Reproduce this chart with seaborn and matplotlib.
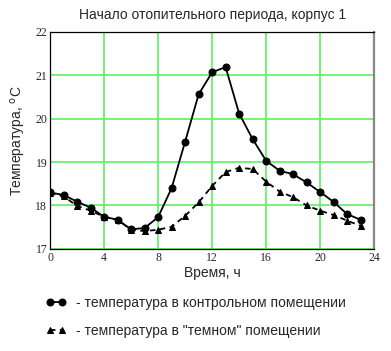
import numpy as np
import pandas as pd
import matplotlib
matplotlib.use('Agg')
import matplotlib.pyplot as plt
import seaborn as sns

# данные
hours = list(range(24))
t_control = [18.30, 18.24, 18.09, 17.95, 17.74, 17.67, 17.45, 17.48, 17.73, 18.40,
             19.47, 20.56, 21.07, 21.19, 20.12, 19.53, 19.03, 18.80, 18.72, 18.53,
             18.31, 18.08, 17.80, 17.67]
t_dark = [18.28, 18.21, 17.99, 17.88, 17.74, 17.67, 17.44, 17.41, 17.44, 17.51,
          17.76, 18.07, 18.45, 18.77, 18.87, 18.84, 18.55, 18.32, 18.19, 18.00,
          17.88, 17.78, 17.65, 17.53]

label_control = '- температура в контрольном помещении'
label_dark = '- температура в "темном" помещении'

df = pd.DataFrame({'t': hours, 'control': t_control, 'dark': t_dark})

sns.set_style('white')
plt.rcParams['font.family'] = ['Liberation Sans', 'DejaVu Sans']

fig = plt.figure(figsize=(3.91, 3.51), dpi=100)
ax = fig.add_axes([0.128, 0.291, 0.829, 0.618])

sns.lineplot(data=df, x='t', y='control', ax=ax, color='black', lw=1.3,
             marker='o', markersize=5, markeredgecolor='black', label=label_control)
sns.lineplot(data=df, x='t', y='dark', ax=ax, color='black', lw=1.3,
             marker='^', markersize=5, markeredgecolor='black', label=label_dark)
ax.lines[1].set_dashes([3, 2.5])

ax.set_xlim(0, 24)
ax.set_ylim(17, 22)
ax.set_xticks(range(0, 25, 4))
ax.set_yticks(range(17, 23))
ax.grid(True, color='#5ef05e', lw=1.2)
ax.set_axisbelow(True)
ax.tick_params(length=0, pad=2)
for lab in ax.get_xticklabels() + ax.get_yticklabels():
    lab.set_family('Liberation Serif')
    lab.set_fontsize(8.5)

for s in ['left', 'bottom', 'top']:
    ax.spines[s].set_color('black')
    ax.spines[s].set_linewidth(0.9)
ax.spines['right'].set_color('#888888')
ax.spines['right'].set_linewidth(1.6)

ax.set_title('Начало отопительного периода, корпус 1', fontsize=10, pad=9)
ax.set_xlabel('Время, ч', fontsize=10, labelpad=2)
ax.set_ylabel(r'Температура, $^\mathrm{o}$C', fontsize=10, labelpad=5)

handles, labels = ax.get_legend_handles_labels()
ax.get_legend().remove()
fig.legend(handles, labels, loc='upper left', bbox_to_anchor=(0.085, 0.193),
           frameon=False, fontsize=10, numpoints=2, handlelength=1.5,
           handletextpad=0.7, labelspacing=1.0)

fig.savefig('out.png', dpi=100)
